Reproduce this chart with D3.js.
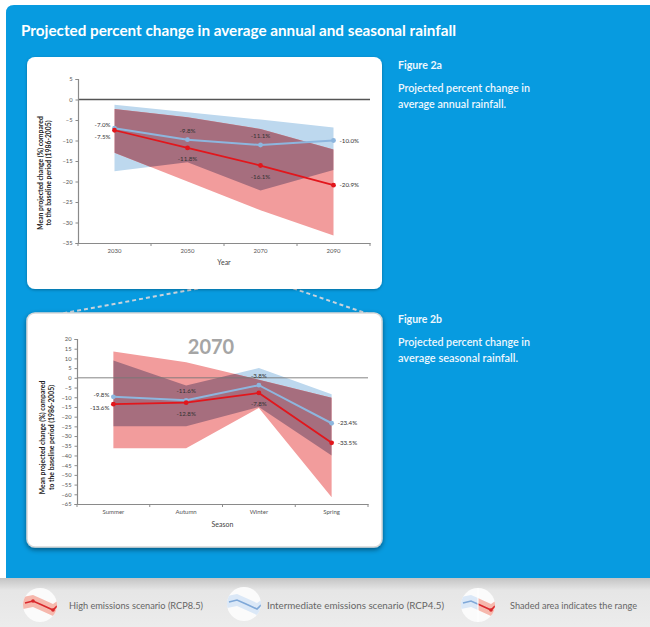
<!DOCTYPE html>
<html>
<head>
<meta charset="utf-8">
<script src="https://cdn.jsdelivr.net/npm/d3@7/dist/d3.min.js"></script>
<style>
  html, body { margin: 0; padding: 0; background: #ffffff; }
  svg { display: block; }
  text { font-family: Lato, "Open Sans", sans-serif; }
</style>
</head>
<body>
<svg id="chart" width="650" height="627"></svg>
<script>
// ---- Figure 2a: annual rainfall change (%) ----
const years = ["2030", "2050", "2070", "2090"];
const annualRcp45 = [-7.0, -9.8, -11.1, -10.0];
const annualRcp85 = [-7.5, -11.8, -16.1, -20.9];
const annualRcp45Upper = [-1.3, -3.1, -4.9, -6.8];
const annualRcp45Lower = [-17.5, -15.3, -22.2, -17.2];
const annualRcp85Upper = [-2.3, -4.3, -7.2, -12.2];
const annualRcp85Lower = [-13.0, -20.0, -27.0, -33.2];
const annualTicks = [5, 0, -5, -10, -15, -20, -25, -30, -35];

// ---- Figure 2b: seasonal rainfall change (%) in 2070 ----
const seasons = ["Summer", "Autumn", "Winter", "Spring"];
const seasonRcp45 = [-9.8, -11.6, -3.8, -23.4];
const seasonRcp85 = [-13.6, -12.8, -7.8, -33.5];
const seasonRcp45Upper = [8.9, -4.0, 5.0, -8.5];
const seasonRcp45Lower = [-25.0, -25.0, -15.0, -40.0];
const seasonRcp85Upper = [13.6, 8.0, -1.0, -10.3];
const seasonRcp85Lower = [-36.3, -36.3, -15.5, -61.5];
const seasonTicks = [20, 15, 10, 5, 0, -5, -10, -15, -20, -25, -30, -35, -40, -45, -50, -55, -60, -65];

const legendLabels = ["High emissions scenario (RCP8.5)", "Intermediate emissions scenario (RCP4.5)", "Shaded area indicates the range"];

const COLORS = {
  panel: "#079be0",
  red: "#e2161c",
  blue: "#8db6de",
  redBand: "#f29c9c",
  blueBand: "#bdd8ee",
  overlap: "#a66e7e",
  axis: "#8a8a8a",
  tickText: "#555555",
  labelText: "#333333"
};

const svg = d3.select("#chart");
const defs = svg.append("defs");

const sh1 = defs.append("filter").attr("id", "cardShadow").attr("x", "-10%").attr("y", "-10%").attr("width", "120%").attr("height", "125%");
sh1.append("feDropShadow").attr("dx", 0).attr("dy", 1).attr("stdDeviation", 1.5).attr("flood-color", "#000").attr("flood-opacity", 0.3);
const sh2 = defs.append("filter").attr("id", "cardShadow2").attr("x", "-10%").attr("y", "-10%").attr("width", "120%").attr("height", "125%");
sh2.append("feDropShadow").attr("dx", 0).attr("dy", 2).attr("stdDeviation", 2.5).attr("flood-color", "#000").attr("flood-opacity", 0.45);

const lg = defs.append("linearGradient").attr("id", "legendShade").attr("x1", 0).attr("x2", 0).attr("y1", 0).attr("y2", 1);
lg.append("stop").attr("offset", "0%").attr("stop-color", "#c4c4c4");
lg.append("stop").attr("offset", "25%").attr("stop-color", "#e6e6e6");
lg.append("stop").attr("offset", "100%").attr("stop-color", "#ececec");

// Blue page panel
svg.append("path")
  .attr("d", "M6,13 Q6,5 14,5 L650,5 L650,578 L6,578 Z")
  .attr("fill", COLORS.panel);

svg.append("text")
  .attr("x", 21).attr("y", 36)
  .attr("fill", "#ffffff")
  .attr("font-size", 14.5).attr("font-weight", 700)
  .attr("textLength", 435).attr("lengthAdjust", "spacingAndGlyphs")
  .text("Projected percent change in average annual and seasonal rainfall");

// Dashed connector from 2070 down to the seasonal card
const conn = svg.append("g").attr("fill", "none").attr("stroke", "#c9d3dc")
  .attr("stroke-width", 2).attr("stroke-dasharray", "4,3");

// Cards
svg.append("rect").attr("x", 27).attr("y", 57).attr("width", 355).attr("height", 232)
  .attr("rx", 8).attr("fill", "#ffffff").attr("filter", "url(#cardShadow)");

conn.append("line").attr("x1", 260).attr("y1", 258).attr("x2", 260).attr("y2", 275);
conn.append("line").attr("x1", 260).attr("y1", 277).attr("x2", 38).attr("y2", 318);
conn.append("line").attr("x1", 260).attr("y1", 277).attr("x2", 374).attr("y2", 316);

svg.append("rect").attr("x", 27).attr("y", 313).attr("width", 355).attr("height", 234)
  .attr("rx", 8).attr("fill", "#ffffff").attr("stroke", "#d8d8d8").attr("stroke-width", 1.5)
  .attr("filter", "url(#cardShadow2)");

// Figure captions
function caption(y0, title, l1, l2, w2) {
  const g = svg.append("g").attr("fill", "#eef7fd");
  g.append("text").attr("x", 398).attr("y", y0).attr("font-size", 10.5).attr("font-weight", 700)
    .attr("textLength", 44).attr("lengthAdjust", "spacingAndGlyphs").text(title);
  g.append("text").attr("x", 398).attr("y", y0 + 23).attr("font-size", 10.5).attr("font-weight", 600)
    .attr("textLength", 132).attr("lengthAdjust", "spacingAndGlyphs").text(l1);
  g.append("text").attr("x", 398).attr("y", y0 + 39).attr("font-size", 10.5).attr("font-weight", 600)
    .attr("textLength", w2).attr("lengthAdjust", "spacingAndGlyphs").text(l2);
}
caption(69, "Figure 2a", "Projected percent change in", "average annual rainfall.", 108);
caption(323, "Figure 2b", "Projected percent change in", "average seasonal rainfall.", 120);

// Generic range/line chart
function drawChart(opt) {
  const g = svg.append("g");
  const x = d3.scaleBand().domain(opt.cats).range(opt.xRange).paddingInner(0).paddingOuter(0);
  const y = d3.scaleLinear().domain(opt.yDomain).range(opt.yRange);
  const cx = d => x(d) + x.bandwidth() / 2;

  const rows = opt.cats.map((c, i) => ({
    c, r45: opt.r45[i], r85: opt.r85[i],
    u45: opt.u45[i], l45: opt.l45[i], u85: opt.u85[i], l85: opt.l85[i]
  }));

  const area45 = d3.area().x(d => cx(d.c)).y0(d => y(d.l45)).y1(d => y(d.u45));
  const area85 = d3.area().x(d => cx(d.c)).y0(d => y(d.l85)).y1(d => y(d.u85));

  const clipId = "clip-" + opt.id;
  defs.append("clipPath").attr("id", clipId).append("path").attr("d", area45(rows));

  g.append("path").attr("d", area45(rows)).attr("fill", COLORS.blueBand);
  g.append("path").attr("d", area85(rows)).attr("fill", COLORS.redBand);
  g.append("path").attr("d", area85(rows)).attr("fill", COLORS.overlap).attr("clip-path", `url(#${clipId})`);

  // zero line
  g.append("line").attr("x1", opt.xRange[0]).attr("x2", opt.xRange[1])
    .attr("y1", y(0)).attr("y2", y(0))
    .attr("stroke", opt.zeroColor).attr("stroke-width", opt.zeroWidth);

  // y axis
  const ya = g.append("g").attr("transform", `translate(${opt.xRange[0]},0)`)
    .call(d3.axisLeft(y).tickValues(opt.ticks).tickSize(2.5).tickPadding(3));
  ya.select(".domain").attr("stroke", COLORS.axis).attr("stroke-width", 1.2);
  ya.selectAll(".tick line").attr("stroke", COLORS.axis);
  ya.selectAll(".tick text").attr("fill", COLORS.tickText).attr("font-size", 5.8)
    .attr("font-family", "Lato, sans-serif");

  // x axis with boundary ticks
  const xa = g.append("g").attr("transform", `translate(0,${opt.yRange[0]})`)
    .call(d3.axisBottom(x).tickSize(0).tickPadding(6));
  xa.select(".domain").attr("stroke", COLORS.axis).attr("stroke-width", 1.2);
  xa.selectAll(".tick text").attr("fill", COLORS.tickText).attr("font-size", 6)
    .attr("font-family", "Lato, sans-serif");
  const bounds = opt.cats.map(c => x(c)).concat([x(opt.cats[opt.cats.length - 1]) + x.bandwidth()]);
  g.append("g").selectAll("line").data(bounds).join("line")
    .attr("x1", d => d).attr("x2", d => d)
    .attr("y1", opt.yRange[0]).attr("y2", opt.yRange[0] + 3)
    .attr("stroke", COLORS.axis);

  // axis titles
  const xMid = (opt.xRange[0] + opt.xRange[1]) / 2;
  g.append("text").attr("x", xMid).attr("y", opt.yRange[0] + opt.xTitleDy)
    .attr("text-anchor", "middle").attr("font-size", 7).attr("fill", "#444").text(opt.xTitle);

  const yMid = (opt.yRange[0] + opt.yRange[1]) / 2 + opt.yTitleShift;
  const yt = g.append("text").attr("transform", `translate(${opt.yTitleX},${yMid}) rotate(-90)`)
    .attr("text-anchor", "middle").attr("font-size", 6.8).attr("font-weight", 700).attr("fill", "#222");
  yt.append("tspan").attr("x", 0).attr("dy", 0).text("Mean projected change (%) compared");
  yt.append("tspan").attr("x", 0).attr("dy", 8.8).text("to the baseline period (1986-2005)");

  // series lines
  const line45 = d3.line().x(d => cx(d.c)).y(d => y(d.r45));
  const line85 = d3.line().x(d => cx(d.c)).y(d => y(d.r85));
  g.append("path").attr("d", line45(rows)).attr("fill", "none").attr("stroke", COLORS.blue).attr("stroke-width", 2);
  g.append("path").attr("d", line85(rows)).attr("fill", "none").attr("stroke", COLORS.red).attr("stroke-width", 1.8);
  g.append("g").selectAll("circle").data(rows).join("circle")
    .attr("cx", d => cx(d.c)).attr("cy", d => y(d.r45)).attr("r", 2.4).attr("fill", COLORS.blue);
  g.append("g").selectAll("circle").data(rows).join("circle")
    .attr("cx", d => cx(d.c)).attr("cy", d => y(d.r85)).attr("r", 2.4).attr("fill", COLORS.red);

  // value labels
  const fmt = v => v.toFixed(1) + "%";
  const lab = g.append("g").attr("font-size", 6.2).attr("fill", COLORS.labelText);
  rows.forEach((d, i) => {
    const n = rows.length;
    if (i === 0) {
      lab.append("text").attr("x", cx(d.c) - 4).attr("y", y(d.r45) + opt.firstDy[0]).attr("text-anchor", "end").text(fmt(d.r45));
      lab.append("text").attr("x", cx(d.c) - 4).attr("y", y(d.r85) + opt.firstDy[1]).attr("text-anchor", "end").text(fmt(d.r85));
    } else if (i === n - 1) {
      lab.append("text").attr("x", cx(d.c) + 6).attr("y", y(d.r45) + 2.2).text(fmt(d.r45));
      lab.append("text").attr("x", cx(d.c) + 6).attr("y", y(d.r85) + 2.2).text(fmt(d.r85));
    } else {
      lab.append("text").attr("x", cx(d.c)).attr("y", y(d.r45) - 7).attr("text-anchor", "middle").text(fmt(d.r45));
      lab.append("text").attr("x", cx(d.c)).attr("y", y(d.r85) + 13).attr("text-anchor", "middle").text(fmt(d.r85));
    }
  });
  return { g, x, y };
}

drawChart({
  id: "annual", cats: years,
  r45: annualRcp45, r85: annualRcp85,
  u45: annualRcp45Upper, l45: annualRcp45Lower, u85: annualRcp85Upper, l85: annualRcp85Lower,
  xRange: [78, 370], yDomain: [-35, 5], yRange: [243, 79], ticks: annualTicks,
  zeroColor: "#555", zeroWidth: 1.3,
  xTitle: "Year", xTitleDy: 22, yTitleX: 42.5, yTitleShift: 12,
  firstDy: [-1, 9]
});

drawChart({
  id: "season", cats: seasons,
  r45: seasonRcp45, r85: seasonRcp85,
  u45: seasonRcp45Upper, l45: seasonRcp45Lower, u85: seasonRcp85Upper, l85: seasonRcp85Lower,
  xRange: [77, 368], yDomain: [-65, 20], yRange: [504, 339], ticks: seasonTicks,
  zeroColor: "#777", zeroWidth: 0.9,
  xTitle: "Season", xTitleDy: 23, yTitleX: 45, yTitleShift: 16,
  firstDy: [0, 6]
});

svg.append("text").attr("x", 211).attr("y", 354).attr("text-anchor", "middle")
  .attr("font-size", 20).attr("font-weight", 700).attr("fill", "#a5a5a5").text("2070");

// Legend strip
svg.append("rect").attr("x", 0).attr("y", 578).attr("width", 650).attr("height", 49).attr("fill", "url(#legendShade)");

const iconLine = [[-15, -2], [-7, -4], [2, 0], [13, 5], [17, 1]];
const iconBandHi = [[-17, -8], [-7, -10], [2, -6], [13, -1], [19, -5]];
const iconBandLo = [[-17, 4], [-7, 2], [2, 6], [13, 11], [19, 7]];

function legendIcon(cx, cy, kind) {
  const g = svg.append("g").attr("transform", `translate(${cx},${cy})`);
  const cid = "icon-" + kind;
  defs.append("clipPath").attr("id", cid).append("circle").attr("cx", 0).attr("cy", 0).attr("r", 17);
  g.append("circle").attr("r", 17).attr("fill", "#fbfbfb");
  const inner = g.append("g").attr("clip-path", `url(#${cid})`);
  const band = d3.area().x(d => d[0]).y0((d, i) => iconBandLo[i][1]).y1(d => d[1]);
  const ln = d3.line().x(d => d[0]).y(d => d[1]);
  const draw = (parent, fill, stroke, dots) => {
    parent.append("path").attr("d", band(iconBandHi)).attr("fill", fill);
    parent.append("path").attr("d", ln(iconLine)).attr("fill", "none").attr("stroke", stroke).attr("stroke-width", 1.6);
    if (dots) parent.selectAll("circle.d").data([iconLine[1], iconLine[3]]).join("circle")
      .attr("cx", d => d[0]).attr("cy", d => d[1]).attr("r", 1.8).attr("fill", stroke);
  };
  if (kind === "hi") draw(inner, "#f6b8ad", "#d9282c", true);
  else if (kind === "mid") draw(inner, "#dbe8f7", "#7fa8d8", false);
  else {
    const lid = "icon-left", rid = "icon-right";
    defs.append("clipPath").attr("id", lid).append("rect").attr("x", -20).attr("y", -20).attr("width", 20).attr("height", 40);
    defs.append("clipPath").attr("id", rid).append("rect").attr("x", 0).attr("y", -20).attr("width", 20).attr("height", 40);
    draw(inner.append("g").attr("clip-path", `url(#${lid})`), "#dbe8f7", "#7fa8d8", false);
    draw(inner.append("g").attr("clip-path", `url(#${rid})`), "#f6b8ad", "#d9282c", true);
    inner.append("line").attr("x1", 0).attr("x2", 0).attr("y1", -17).attr("y2", 17).attr("stroke", "#ffffff").attr("stroke-width", 1);
  }
}
legendIcon(40, 605, "hi");
legendIcon(244, 604, "mid");
legendIcon(478, 605, "range");

const legendX = [69, 267, 510];
const legendW = [134, 177, 127];
legendLabels.forEach((t, i) => {
  svg.append("text").attr("x", legendX[i]).attr("y", 609)
    .attr("font-family", "'Open Sans', sans-serif").attr("font-size", 10).attr("fill", "#666")
    .attr("textLength", legendW[i]).attr("lengthAdjust", "spacingAndGlyphs").text(t);
});
</script>
</body>
</html>
